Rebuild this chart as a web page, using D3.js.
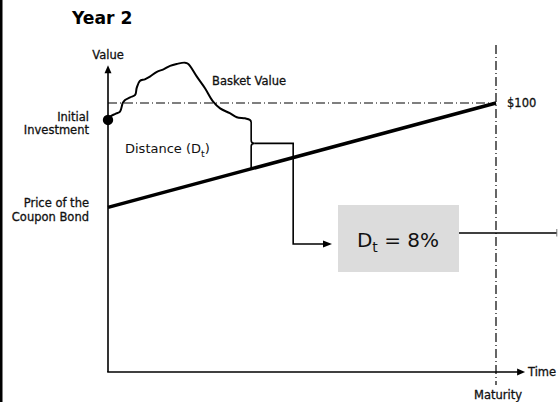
<!DOCTYPE html>
<html><head><meta charset="utf-8">
<script src="https://cdn.jsdelivr.net/npm/d3@7"></script>
<style>html,body{margin:0;padding:0;background:#fff;}svg{display:block;font-family:"DejaVu Sans",Verdana,sans-serif;}</style>
</head><body>
<script>
// ---- data ----
const title = "Year 2";
const basketTime  = [0, 0.5, 1.8, 3.1, 3.8, 4.4, 5.7, 7.0, 7.4, 8.2, 9.5, 10.8, 12.6, 14.3, 16.0, 17.7, 19.8, 20.7, 22.9, 25.0, 27.1, 28.9, 31.4, 33.2, 35.3, 36.6, 36.9];
const basketValue = [93.7, 94.9, 95.9, 96.8, 100.0, 101.1, 102.1, 103.0, 105.6, 108.2, 108.8, 109.8, 111.6, 112.5, 113.8, 114.5, 115.0, 114.5, 109.8, 105.5, 100.5, 98.0, 96.2, 94.7, 94.3, 93.7, 93.0];
const bondTime  = [0, 100];
const bondValue = [61.2, 100];
const initialInvestment = 93.7;
const parValue = 100;
const maturityTime = 100;
const parLabel = "$100";
const distanceValue = "8%";
const leftLabels = [["Initial", "Investment"], ["Price of the", "Coupon Bond"]];

// ---- layout ----
const W = 558, H = 402;
const x = d3.scaleLinear().domain([0, 100]).range([108, 496]);
const y = d3.scaleLinear().domain([0, 100]).range([372, 103]);

const svg = d3.select("body").append("svg").attr("width", W).attr("height", H);

// left border bar
svg.append("rect").attr("x", 0).attr("y", 0).attr("width", 2.5).attr("height", H).attr("fill", "#000");

// title
svg.append("text").attr("x", 72).attr("y", 24).attr("font-size", 17.2).attr("font-weight", "bold").text(title);

const dash = "9,3,1,3";
// par line
svg.append("line").attr("x1", x(0)).attr("x2", x(maturityTime)).attr("y1", y(parValue)).attr("y2", y(parValue))
  .attr("stroke", "#000").attr("stroke-width", 1.2).attr("stroke-dasharray", dash);
// maturity line
svg.append("line").attr("x1", x(maturityTime)).attr("x2", x(maturityTime)).attr("y1", y(121.6)).attr("y2", y(-4.8))
  .attr("stroke", "#000").attr("stroke-width", 1.2).attr("stroke-dasharray", dash);

// axes
const axisTopV = 114, axisRightT = 107.5;
svg.append("line").attr("x1", x(0)).attr("x2", x(0)).attr("y1", y(0)).attr("y2", y(axisTopV) + 5)
  .attr("stroke", "#000").attr("stroke-width", 1.6);
svg.append("line").attr("x1", x(0) - 0.8).attr("x2", x(axisRightT) - 5).attr("y1", y(0)).attr("y2", y(0))
  .attr("stroke", "#000").attr("stroke-width", 1.6);
// arrowheads
const ax = x(0), ay = y(axisTopV);
svg.append("path").attr("d", `M${ax},${ay} L${ax - 3.5},${ay + 8} L${ax + 3.5},${ay + 8} Z`).attr("fill", "#000");
const bx = x(axisRightT), by = y(0);
svg.append("path").attr("d", `M${bx},${by} L${bx - 8},${by - 3.5} L${bx - 8},${by + 3.5} Z`).attr("fill", "#000");

// bond line
const bondLine = d3.line().x((d, i) => x(bondTime[i])).y(d => y(d));
svg.append("path").attr("d", bondLine(bondValue)).attr("fill", "none").attr("stroke", "#000").attr("stroke-width", 3.5);

// basket line
const basketLine = d3.line().x((d, i) => x(basketTime[i])).y(d => y(d)).curve(d3.curveCatmullRom.alpha(0.5));
svg.append("path").attr("d", basketLine(basketValue)).attr("fill", "none").attr("stroke", "#000").attr("stroke-width", 2);

// initial investment dot
svg.append("circle").attr("cx", x(0)).attr("cy", y(initialInvestment)).attr("r", 5.2).attr("fill", "#000");

// distance brace
const tEnd = basketTime[basketTime.length - 1];
const bx1 = x(tEnd);
const yTop = y(basketValue[basketValue.length - 1]);
const bondAt = bondValue[0] + (bondValue[1] - bondValue[0]) * (tEnd - bondTime[0]) / (bondTime[1] - bondTime[0]);
const yBot = y(bondAt);
const yMid = (yTop + yBot) / 2 - 2;
svg.append("path")
  .attr("d", `M${bx1},${yTop} V${yMid - 3} Q${bx1},${yMid} ${bx1 + 3},${yMid} Q${bx1},${yMid} ${bx1},${yMid + 3} V${yBot}`)
  .attr("fill", "none").attr("stroke", "#000").attr("stroke-width", 1.6);
// connector to box
const cx2 = bx1 + 42, arrowY = 244, arrowTip = 332;
svg.append("path").attr("d", `M${bx1 + 3},${yMid} H${cx2} V${arrowY} H${arrowTip - 8}`)
  .attr("fill", "none").attr("stroke", "#000").attr("stroke-width", 1.6);
svg.append("path").attr("d", `M${arrowTip},${arrowY} L${arrowTip - 9},${arrowY - 3.5} L${arrowTip - 9},${arrowY + 3.5} Z`).attr("fill", "#000");

// result box
svg.append("rect").attr("x", 338).attr("y", 205).attr("width", 121).attr("height", 67).attr("fill", "#dcdcdc");
const dt = svg.append("text").attr("x", 398).attr("y", 247).attr("font-size", 20).attr("text-anchor", "middle").attr("fill", "#111");
dt.append("tspan").text("D");
dt.append("tspan").attr("font-size", 14).attr("dy", 5).text("t");
dt.append("tspan").attr("dy", -5).text(" = " + distanceValue);
// line to right
svg.append("line").attr("x1", 459).attr("x2", 557).attr("y1", 233).attr("y2", 233).attr("stroke", "#000").attr("stroke-width", 1.5);
svg.append("line").attr("x1", 556.8).attr("x2", 556.8).attr("y1", 229).attr("y2", 236.5).attr("stroke", "#777").attr("stroke-width", 1);

// distance label
const dl = svg.append("text").attr("x", 125).attr("y", 153).attr("font-size", 13).attr("fill", "#111");
dl.append("tspan").text("Distance (D");
dl.append("tspan").attr("font-size", 9.5).attr("dy", 3.5).text("t");
dl.append("tspan").attr("dy", -3.5).text(")");

// small labels
function label(txt, xx, yy, anchor) {
  return svg.append("text").attr("x", xx).attr("y", yy).attr("text-anchor", anchor || "start")
    .attr("font-size", 11.5).attr("fill", "#111").attr("stroke", "#111").attr("stroke-width", 0.3)
    .text(txt);
}
label("Value", x(0), 59, "middle");
label("Basket Value", 212, 85);
label(leftLabels[0][0], 89, 121, "end");
label(leftLabels[0][1], 89, 133.5, "end");
label(leftLabels[1][0], 89, 207, "end");
label(leftLabels[1][1], 89, 221, "end");
label(parLabel, 507, y(parValue) + 4);
label("Time", 528, y(0) + 4);
label("Maturity", x(maturityTime) + 2, 399, "middle");
</script>
</body></html>
